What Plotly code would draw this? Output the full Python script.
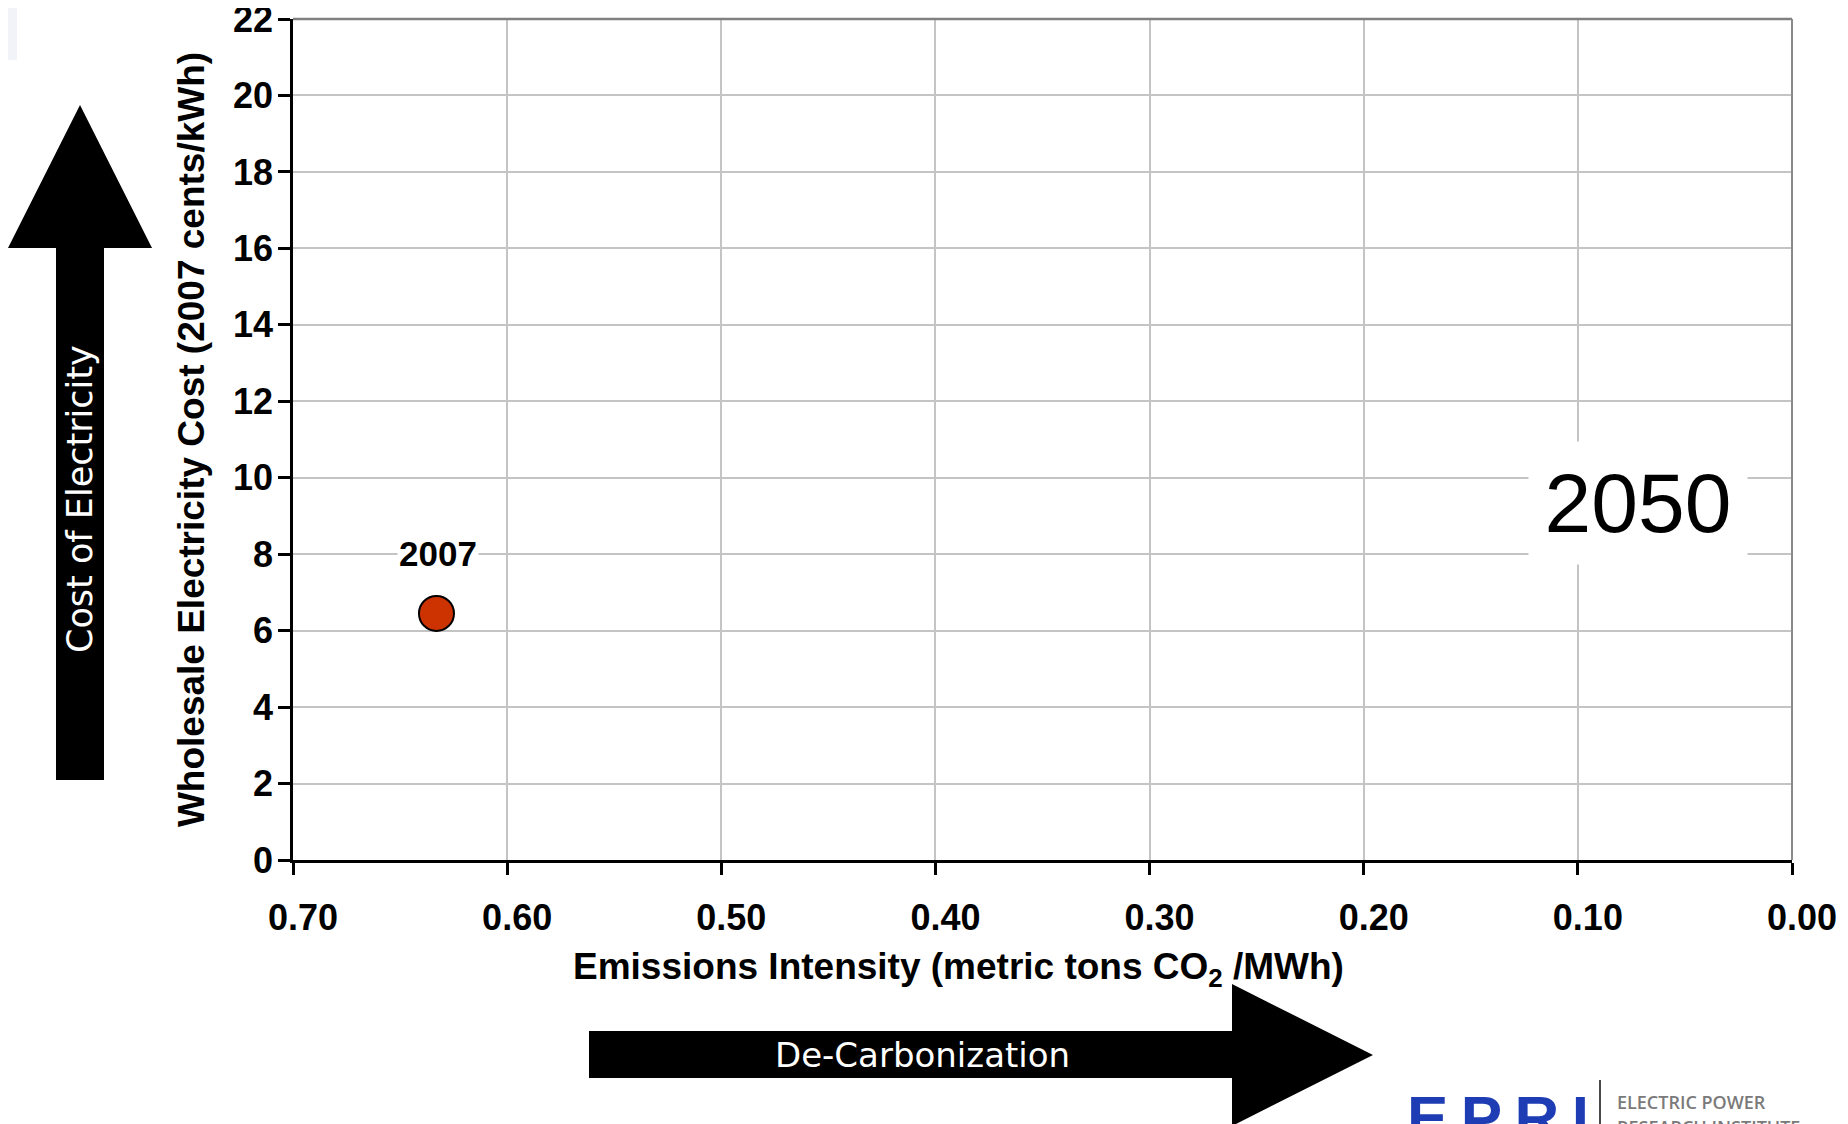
import plotly.graph_objects as go

# ---------------- data ----------------
point_emissions = [0.633]          # metric tons CO2 / MWh
point_cost = [6.45]                # 2007 cents / kWh
point_labels = ["2007"]

x_tick_vals = [0.70, 0.60, 0.50, 0.40, 0.30, 0.20, 0.10, 0.00]
x_tick_text = ["0.70", "0.60", "0.50", "0.40", "0.30", "0.20", "0.10", "0.00"]
y_tick_vals = [0, 2, 4, 6, 8, 10, 12, 14, 16, 18, 20, 22]
y_tick_text = ["0", "2", "4", "6", "8", "10", "12", "14", "16", "18", "20", "22"]

x_title = "Emissions Intensity (metric tons CO<sub>2</sub> /MWh)"
y_title = "Wholesale Electricity Cost (2007 cents/kWh)"
scenario_label = "2050"
cost_arrow_label = "Cost of Electricity"
carbon_arrow_label = "De-Carbonization"
logo_text = "E\u2009P\u2009R\u2009I"
logo_line1 = "ELECTRIC POWER"
logo_line2 = "RESEARCH INSTITUTE"

# ---------------- layout geometry (page pixels) ----------------
PAGE_W, PAGE_H = 1848, 1124
BODY = 8                               # default body margin of the html page
W, H = PAGE_W - BODY, PAGE_H - BODY    # figure size
L, R, T, B = 293, 1792, 19, 860        # plot area, in page pixels


def px(x):
    return (x - L) / (R - L)


def py(y):
    return (B - y) / (B - T)


def path(points):
    return "M " + " L ".join(f"{px(x):.5f},{py(y):.5f}" for x, y in points) + " Z"


NBSP = "\u00a0"
BOLD = dict(family="Liberation Sans, Arial, sans-serif", color="black", weight="bold")

fig = go.Figure()
fig.add_trace(go.Scatter(
    x=point_emissions, y=point_cost, mode="markers",
    marker=dict(size=35, color="#cc3300", line=dict(color="black", width=2)),
    cliponaxis=False, showlegend=False, hoverinfo="skip",
))

shapes = [
    # faint corner tint
    dict(type="rect", xref="paper", yref="paper", x0=px(0), x1=px(17), y0=py(60), y1=py(0),
         fillcolor="#f2f2f9", line=dict(width=0), layer="below"),
    # top and right frame
    dict(type="line", xref="paper", yref="paper", x0=0, x1=1, y0=1, y1=1,
         line=dict(color="#808080", width=2.5)),
    dict(type="line", xref="paper", yref="paper", x0=1, x1=1, y0=0, y1=1,
         line=dict(color="#8a8a8a", width=2)),
    # up arrow (cost)
    dict(type="path", xref="paper", yref="paper",
         path=path([(56, 780), (104, 780), (104, 248), (152, 248), (80, 105), (8, 248), (56, 248)]),
         fillcolor="black", line=dict(width=0)),
    # right arrow (de-carbonization)
    dict(type="path", xref="paper", yref="paper",
         path=path([(589, 1031), (1232, 1031), (1232, 984), (1373, 1055), (1232, 1126), (1232, 1078), (589, 1078)]),
         fillcolor="black", line=dict(width=0)),
    # logo separator
    dict(type="line", xref="paper", yref="paper", x0=px(1600), x1=px(1600), y0=py(1080), y1=py(1130),
         line=dict(color="#4a4a4a", width=2)),
]

annotations = [
    dict(x=point_emissions[0], y=point_cost[0], text=point_labels[0], showarrow=False,
         xanchor="center", yanchor="middle", bgcolor="white", borderpad=1,
         yshift=60, xshift=2, font=dict(size=35, **BOLD)),
    dict(xref="paper", yref="paper", x=px(1638), y=py(503), text=scenario_label, showarrow=False,
         xanchor="center", yanchor="middle",
         font=dict(family="Liberation Sans, Arial, sans-serif", size=84, color="black"),
         bgcolor="white", width=216, height=120, borderpad=1),
    dict(xref="paper", yref="paper", x=px(80), y=py(499), text=cost_arrow_label, showarrow=False,
         xanchor="center", yanchor="middle", textangle=-90,
         font=dict(family="DejaVu Sans, Verdana, sans-serif", size=35, color="white")),
    dict(xref="paper", yref="paper", x=px(922), y=py(1055), text=carbon_arrow_label, showarrow=False,
         xanchor="center", yanchor="middle",
         font=dict(family="DejaVu Sans, Verdana, sans-serif", size=34, color="white")),
    dict(xref="paper", yref="paper", x=px(958), y=py(969), text=x_title, showarrow=False,
         xanchor="center", yanchor="middle",
         font=dict(size=37, **BOLD)),
    dict(xref="paper", yref="paper", x=px(1405), y=py(1117), text=logo_text, showarrow=False,
         xanchor="left", yanchor="middle",
         font=dict(family="Liberation Sans, Arial, sans-serif", size=62, color="#1e3cb4", weight="bold")),
    dict(xref="paper", yref="paper", x=px(1615), y=py(1102), text=logo_line1, showarrow=False,
         xanchor="left", yanchor="middle",
         font=dict(family="Open Sans, Liberation Sans, sans-serif", size=18, color="#7a7a7a", weight=600)),
    dict(xref="paper", yref="paper", x=px(1615), y=py(1127), text=logo_line2, showarrow=False,
         xanchor="left", yanchor="middle",
         font=dict(family="Open Sans, Liberation Sans, sans-serif", size=18, color="#7a7a7a", weight=600)),
]

fig.update_layout(
    width=W, height=H,
    margin=dict(l=L - BODY, r=W - (R - BODY), t=T - BODY, b=H - (B - BODY), autoexpand=False),
    paper_bgcolor="white", plot_bgcolor="white",
    showlegend=False,
    shapes=shapes,
    annotations=annotations,
    xaxis=dict(
        range=[0.70, 0.00], tickvals=x_tick_vals,
        ticktext=[NBSP + NBSP + t for t in x_tick_text],
        showgrid=True, gridcolor="#c4c4c4", gridwidth=2, zeroline=False,
        showline=True, linecolor="black", linewidth=2.5,
        ticks="outside", ticklen=12, tickwidth=2.5, tickcolor="black",
        tickfont=dict(size=36, **BOLD), ticklabelstandoff=12, ticklabeloverflow="allow",
    ),
    yaxis=dict(
        range=[0, 22], tickvals=y_tick_vals, ticktext=y_tick_text,
        showgrid=True, gridcolor="#c4c4c4", gridwidth=2, zeroline=False,
        showline=True, linecolor="black", linewidth=2.5,
        ticks="outside", ticklen=12, tickwidth=2.5, tickcolor="black",
        tickfont=dict(size=36, **BOLD), ticklabelstandoff=-2, ticklabeloverflow="allow",
        title=dict(text=y_title, font=dict(size=37, **BOLD), standoff=18),
    ),
)

fig.write_html("out.html")
